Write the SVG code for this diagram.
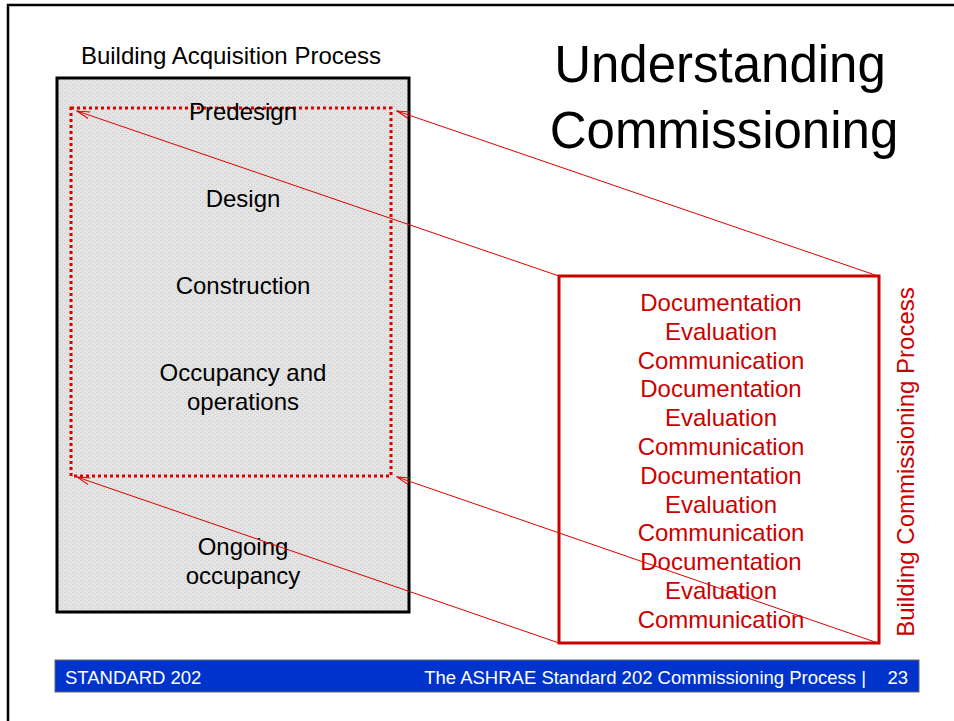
<svg xmlns="http://www.w3.org/2000/svg" width="954" height="721" viewBox="0 0 954 721">
  <defs>
    <pattern id="dots" width="4" height="4" patternUnits="userSpaceOnUse">
      <rect width="4" height="4" fill="#e4e4e4"/>
      <rect x="0" y="0" width="1" height="1" fill="#cacaca"/>
      <rect x="2" y="2" width="1" height="1" fill="#cacaca"/>
    </pattern>
    <marker id="open" viewBox="0 0 14 10" refX="13" refY="5" markerWidth="14" markerHeight="10" markerUnits="userSpaceOnUse" orient="auto">
      <path d="M0,1.5 L13,5 L0,8.5" fill="none" stroke="#dd0000" stroke-width="1"/>
    </marker>
    <style>
      .lbl { font-family: "Liberation Sans", Arial, sans-serif; font-size: 24px; fill: #000; text-anchor: middle; }
      .red { font-family: "Liberation Sans", Arial, sans-serif; font-size: 24px; fill: #cc0000; text-anchor: middle; }
      .foot { font-family: "Liberation Sans", Arial, sans-serif; font-size: 18.5px; fill: #ffffff; }
      .ttl { font-family: "Liberation Sans", Arial, sans-serif; font-size: 51px; fill: #000; text-anchor: middle; }
      .conn { stroke: #dd0000; stroke-width: 1; fill: none; }
    </style>
  </defs>

  <rect width="954" height="721" fill="#ffffff"/>
  <path d="M8,721 V5 H954" fill="none" stroke="#000" stroke-width="2.5"/>

  <g id="title">
    <text class="ttl" x="720" y="82">Understanding</text>
    <text class="ttl" x="724" y="148">Commissioning</text>
  </g>

  <g id="acquisition">
    <text class="lbl" x="231" y="64">Building Acquisition Process</text>
    <rect x="57" y="78" width="352" height="534" fill="url(#dots)" stroke="#000" stroke-width="3"/>
    <rect x="71" y="108" width="320" height="368" fill="none" stroke="#dd0000" stroke-width="3" stroke-dasharray="3 3"/>
    <text class="lbl" x="243" y="120">Predesign</text>
    <text class="lbl" x="243" y="207">Design</text>
    <text class="lbl" x="243" y="294">Construction</text>
    <text class="lbl" x="243" y="381">Occupancy and</text>
    <text class="lbl" x="243" y="410">operations</text>
    <text class="lbl" x="243" y="555">Ongoing</text>
    <text class="lbl" x="243" y="584">occupancy</text>
  </g>

  <g id="commissioning">
    <rect x="559" y="276" width="320" height="367" fill="none" stroke="#cc0000" stroke-width="3"/>
    <text class="red" x="721" y="311">Documentation</text>
    <text class="red" x="721" y="339.8">Evaluation</text>
    <text class="red" x="721" y="368.6">Communication</text>
    <text class="red" x="721" y="397.4">Documentation</text>
    <text class="red" x="721" y="426.2">Evaluation</text>
    <text class="red" x="721" y="455">Communication</text>
    <text class="red" x="721" y="483.8">Documentation</text>
    <text class="red" x="721" y="512.6">Evaluation</text>
    <text class="red" x="721" y="541.4">Communication</text>
    <text class="red" x="721" y="570.2">Documentation</text>
    <text class="red" x="721" y="599">Evaluation</text>
    <text class="red" x="721" y="627.8">Communication</text>
    <text class="red" transform="translate(914,462) rotate(-90)">Building Commissioning Process</text>
  </g>

  <g id="connectors">
    <line class="conn" x1="878" y1="276" x2="397" y2="111" marker-end="url(#open)"/>
    <line class="conn" x1="559" y1="276" x2="77" y2="111" marker-end="url(#open)"/>
    <line class="conn" x1="559" y1="643" x2="77" y2="477" marker-end="url(#open)"/>
    <line class="conn" x1="878" y1="643" x2="397" y2="477" marker-end="url(#open)"/>
  </g>

  <g id="footer">
    <rect x="55" y="660" width="864" height="32" fill="#0033cc" stroke="#666666" stroke-width="1"/>
    <text class="foot" x="65" y="684">STANDARD 202</text>
    <text class="foot" x="866" y="684" text-anchor="end">The ASHRAE Standard 202 Commissioning Process |</text>
    <text class="foot" x="908" y="684" text-anchor="end">23</text>
  </g>
</svg>
